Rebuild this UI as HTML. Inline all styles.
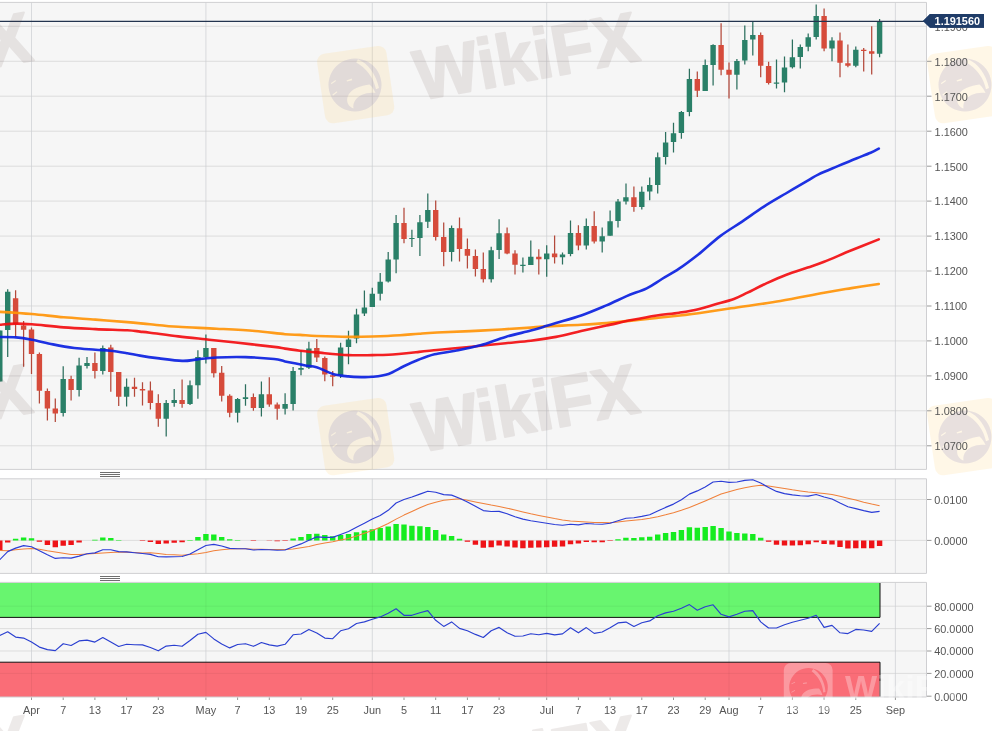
<!DOCTYPE html>
<html lang="en"><head><meta charset="utf-8"><title>EUR/USD daily chart</title>
<style>html,body{margin:0;padding:0;background:#fff}body{width:992px;height:731px;overflow:hidden}svg{display:block}</style></head>
<body>
<svg width="992" height="731" viewBox="0 0 992 731" font-family='"Liberation Sans", Arial, sans-serif' font-size="10.9">
<rect width="992" height="731" fill="#fff"/>
<rect x="0" y="2.4" width="926.5" height="467" fill="#f6f6f6"/>
<rect x="0" y="478.8" width="926.5" height="94.6" fill="#f6f6f6"/>
<rect x="0" y="582.4" width="926.5" height="114.6" fill="#f6f6f6"/>
<g stroke="#d2d2d2" stroke-width="0.7" fill="none">
<path d="M0,26.3 H926.5"/>
<path d="M0,61.3 H926.5"/>
<path d="M0,96.2 H926.5"/>
<path d="M0,131.2 H926.5"/>
<path d="M0,166.2 H926.5"/>
<path d="M0,201.1 H926.5"/>
<path d="M0,236.1 H926.5"/>
<path d="M0,271 H926.5"/>
<path d="M0,306 H926.5"/>
<path d="M0,340.9 H926.5"/>
<path d="M0,375.9 H926.5"/>
<path d="M0,410.8 H926.5"/>
<path d="M0,445.8 H926.5"/>
<path d="M0,499.5 H926.5"/>
<path d="M0,540.4 H926.5"/>
<path d="M0,606.2 H926.5"/>
<path d="M0,628.6 H926.5"/>
<path d="M0,651 H926.5"/>
<path d="M0,673.4 H926.5"/>
</g><g stroke="#cbced2" stroke-width="0.7" fill="none">
<path d="M31.5,2.4 V469.4"/>
<path d="M31.5,478.8 V573.4"/>
<path d="M31.5,582.4 V697"/>
<path d="M205.9,2.4 V469.4"/>
<path d="M205.9,478.8 V573.4"/>
<path d="M205.9,582.4 V697"/>
<path d="M372.3,2.4 V469.4"/>
<path d="M372.3,478.8 V573.4"/>
<path d="M372.3,582.4 V697"/>
<path d="M546.7,2.4 V469.4"/>
<path d="M546.7,478.8 V573.4"/>
<path d="M546.7,582.4 V697"/>
<path d="M729,2.4 V469.4"/>
<path d="M729,478.8 V573.4"/>
<path d="M729,582.4 V697"/>
<path d="M895.4,2.4 V469.4"/>
<path d="M895.4,478.8 V573.4"/>
<path d="M895.4,582.4 V697"/>
</g>
<rect x="0" y="583" width="880" height="34.4" fill="#68f56f"/>
<rect x="0" y="662.2" width="880" height="34.8" fill="#fa6d77"/>
<g stroke="#000" stroke-opacity="0.05" stroke-width="1">
<path d="M0,606.2 H880"/><path d="M0,673.4 H880"/>
<path d="M31.5,583 V617"/><path d="M31.5,663 V696.5"/>
<path d="M205.9,583 V617"/><path d="M205.9,663 V696.5"/>
<path d="M372.3,583 V617"/><path d="M372.3,663 V696.5"/>
<path d="M546.7,583 V617"/><path d="M546.7,663 V696.5"/>
<path d="M729,583 V617"/><path d="M729,663 V696.5"/>
</g>
<path d="M0,617.4 H880 V583" fill="none" stroke="#111" stroke-width="1"/>
<path d="M0,662.2 H880 V697" fill="none" stroke="#111" stroke-width="1"/>
<g stroke="#cfcfd2" stroke-width="1" fill="none">
<path d="M0,2.4 H926.5 V469.4 H0"/>
<path d="M0,478.8 H926.5 V573.4 H0"/>
<path d="M0,582.4 H926.5 V697 H0"/>
</g>
<path d="M-0.2,330.6V381.5M7.7,289.2V357.1M63.2,366.3V416.6M79.1,357.8V396.4M87,357.1V368.4M102.8,345.5V374.5M126.6,378.4V406.6M166.2,400V436.4M174.2,389.1V406.7M190,380.5V405M197.9,350.2V398.7M205.9,334.5V363.6M237.6,398.1V422.6M245.5,384.3V405.8M261.4,381.4V416.5M285.1,393.3V414.6M293.1,367V410.5M301,349.9V375.2M308.9,341.7V369.1M340.6,342.8V378.1M348.5,330.8V364.3M356.5,308.7V343.2M364.4,290.5V316M372.3,287.7V306.9M380.2,272.9V300.5M388.2,251.9V282.5M396.1,214.9V273.3M411.9,229.8V247.1M419.9,214.9V256.1M427.8,193.4V227.9M451.6,225.6V261.4M491.2,246.7V282.5M499.1,219.3V258.9M522.9,257.4V272.5M530.8,240.4V265M546.7,245.2V276.8M562.5,252.5V264.6M570.5,220.5V256.3M586.3,218.4V249.6M602.2,227.6V252.5M610.1,210.4V235.8M618,198.9V227.6M626,183.5V204.6M641.8,186.4V209.4M649.7,177.4V200.2M657.7,152.5V193.5M665.6,132V164.5M673.5,122.8V152.5M681.4,110.9V138.7M689.4,68.7V116.3M705.2,59.5V90.9M713.1,44.3V85.5M736.9,59.1V89.4M744.8,25.6V64.4M752.8,21.5V55.4M776.5,59.4V88.4M784.5,56.6V92.2M792.4,39.4V68.6M800.3,44.5V68.5M808.2,33.4V51.2M816.2,4.5V39.4M832,37.2V61.2M855.8,46.6V67.3M879.6,19.1V57.2" stroke="#2c6f5e" stroke-width="1.25" fill="none"/>
<path d="M15.6,290.3V337M23.6,321V366.7M31.5,327.4V374.1M39.4,352.5V403.4M47.4,388.5V420.4M55.3,398.5V421.9M71.1,375.8V400.6M94.9,352.5V378.4M110.8,344.8V391.7M118.7,372V406M134.5,377.7V396.8M142.5,382.3V405.4M150.4,381.4V409.6M158.3,394.3V426.8M182.1,379.5V407.7M213.8,347.9V377.6M221.7,366.1V401.6M229.7,394.3V417.3M253.4,393.5V410.8M269.3,377.2V406.7M277.2,402.5V419.8M316.8,339V362M324.8,356.6V381.2M332.7,371V386.3M404,207.8V243.2M435.7,200.5V240.4M443.7,222.5V266.2M459.5,217.4V261.4M467.4,238.4V268.5M475.4,249.4V276.4M483.3,252.4V282.5M507.1,227.5V254.3M515,250.2V274.4M538.8,249.3V274.5M554.6,235.6V263.6M578.4,225.3V250.2M594.2,211.3V243.5M633.9,186.4V211.7M697.3,71.6V97.1M721.1,23.3V75.3M729,62.5V98.5M760.7,32.4V77.2M768.6,61.7V84.4M824.1,8.6V51.2M840,32.4V77.2M847.9,44.4V67.3M863.7,48.1V71.5M871.7,26.3V74.5" stroke="#b3493b" stroke-width="1.25" fill="none"/>
<path d="M-2.9,330.6h5.4V381.5h-5.4zM5,291.8h5.4V330h-5.4zM60.5,379h5.4V413h-5.4zM76.4,365.6h5.4V390h-5.4zM84.3,363.1h5.4V366h-5.4zM100.1,348h5.4V370.9h-5.4zM123.9,386.8h5.4V396.8h-5.4zM163.5,402.9h5.4V418.8h-5.4zM171.5,400h5.4V402.9h-5.4zM187.3,385.3h5.4V404h-5.4zM195.2,357.1h5.4V385.3h-5.4zM203.2,347.9h5.4V357.1h-5.4zM234.9,399.1h5.4V412.7h-5.4zM242.8,397.3h5.4V399.1h-5.4zM258.7,394.3h5.4V407.9h-5.4zM282.4,403.9h5.4V408.8h-5.4zM290.4,371h5.4V404h-5.4zM298.3,368.1h5.4V369.7h-5.4zM306.2,348.6h5.4V367.8h-5.4zM337.9,347.4h5.4V375.2h-5.4zM345.8,339.4h5.4V347.1h-5.4zM353.8,314.5h5.4V338.4h-5.4zM361.7,307.4h5.4V313.5h-5.4zM369.6,293.7h5.4V306.9h-5.4zM377.5,281.7h5.4V293.7h-5.4zM385.5,259.5h5.4V281.6h-5.4zM393.4,223.1h5.4V259.5h-5.4zM409.2,237.9h5.4V239.1h-5.4zM417.2,222.2h5.4V237.9h-5.4zM425.1,210.1h5.4V221.8h-5.4zM448.9,227.9h5.4V251.9h-5.4zM488.5,250.3h5.4V279.3h-5.4zM496.4,233.3h5.4V249.9h-5.4zM520.2,264.8h5.4V266.1h-5.4zM528.1,256.7h5.4V265h-5.4zM544,253.5h5.4V259.2h-5.4zM559.8,254.4h5.4V257.3h-5.4zM567.8,233h5.4V254h-5.4zM583.6,226.1h5.4V245.4h-5.4zM599.5,236.2h5.4V241.4h-5.4zM607.4,221.3h5.4V235.8h-5.4zM615.3,201.4h5.4V220.9h-5.4zM623.2,197.3h5.4V201.4h-5.4zM639.1,191.8h5.4V206.9h-5.4zM647,184.9h5.4V191.6h-5.4zM655,157.2h5.4V184.9h-5.4zM662.9,142.5h5.4V156.9h-5.4zM670.8,133.3h5.4V141.9h-5.4zM678.7,111.9h5.4V132.9h-5.4zM686.7,78.9h5.4V111.9h-5.4zM702.5,65h5.4V90.9h-5.4zM710.4,45.1h5.4V65h-5.4zM734.2,61h5.4V74.8h-5.4zM742.1,39.9h5.4V60.6h-5.4zM750.1,34.9h5.4V39.4h-5.4zM773.8,82.5h5.4V83.8h-5.4zM781.8,67.4h5.4V82.4h-5.4zM789.7,57.2h5.4V67.3h-5.4zM797.6,46.9h5.4V56.9h-5.4zM805.5,37.2h5.4V46.8h-5.4zM813.5,16.1h5.4V36.9h-5.4zM829.3,40.6h5.4V48.6h-5.4zM853.1,49.7h5.4V65.8h-5.4zM876.9,21.5h5.4V53.7h-5.4z" fill="#2a8068"/>
<path d="M12.9,298.2h5.4V324.3h-5.4zM20.9,325.4h5.4V329.7h-5.4zM28.8,329.6h5.4V354h-5.4zM36.7,354h5.4V390.7h-5.4zM44.7,391.1h5.4V408.5h-5.4zM52.6,408.5h5.4V413.4h-5.4zM68.4,379h5.4V390h-5.4zM92.2,363.1h5.4V370.9h-5.4zM108.1,347.6h5.4V372h-5.4zM116,372h5.4V396.8h-5.4zM131.8,386.8h5.4V389h-5.4zM139.8,389.1h5.4V390.4h-5.4zM147.7,390.4h5.4V402.9h-5.4zM155.6,402.9h5.4V418.8h-5.4zM179.4,400h5.4V403.9h-5.4zM211.1,347.9h5.4V373.2h-5.4zM219,372.8h5.4V395.8h-5.4zM227,395.8h5.4V412.7h-5.4zM250.7,397.1h5.4V407.9h-5.4zM266.6,394.3h5.4V404.4h-5.4zM274.5,404.4h5.4V408.8h-5.4zM314.1,348h5.4V357.6h-5.4zM322.1,358h5.4V374.5h-5.4zM330,375.2h5.4V376.8h-5.4zM401.3,223.1h5.4V239h-5.4zM433,210.1h5.4V236.9h-5.4zM441,236.9h5.4V251.9h-5.4zM456.8,228.3h5.4V249h-5.4zM464.7,249h5.4V255.7h-5.4zM472.7,256.1h5.4V269.1h-5.4zM480.6,269.1h5.4V279.3h-5.4zM504.4,233.3h5.4V253.4h-5.4zM512.3,253.4h5.4V264.8h-5.4zM536.1,256.7h5.4V259.2h-5.4zM551.9,253.5h5.4V257.3h-5.4zM575.7,233h5.4V245.4h-5.4zM591.5,226.1h5.4V241.4h-5.4zM631.2,197.3h5.4V206.9h-5.4zM694.6,78.9h5.4V90.8h-5.4zM718.4,45.1h5.4V69.7h-5.4zM726.3,69.7h5.4V74.8h-5.4zM758,34.9h5.4V65.8h-5.4zM765.9,65.9h5.4V83.1h-5.4zM821.4,16.1h5.4V48.6h-5.4zM837.3,40.6h5.4V62.7h-5.4zM845.2,63.2h5.4V65.8h-5.4zM861,49.7h5.4V50.9h-5.4zM869,51.2h5.4V53.7h-5.4z" fill="#d64b3b"/>
<g fill="none" stroke-linejoin="round" stroke-linecap="round" stroke-width="2.6" stroke-opacity="0.92">
<path d="M0,311.9C5.3,312.2 21.2,313.1 31.8,314C42.4,314.9 53.1,316.4 63.7,317.3C74.3,318.2 84.9,318.8 95.5,319.6C106.1,320.4 118.2,321.3 127.3,322.1C136.4,322.9 141.5,323.5 150,324.3C158.5,325.1 167.2,326.1 178.3,326.8C189.4,327.5 203.8,328 216.6,328.7C229.4,329.4 243.6,330.1 255,331C266.4,331.9 277.5,333.6 285,334.2C292.5,334.8 294.7,334.6 300,334.9C305.3,335.2 308.6,335.7 316.6,336C324.6,336.3 338.9,336.8 348.2,336.9C357.5,337 363.6,336.8 372.2,336.5C380.8,336.2 392.2,335.7 400,335.2C407.8,334.7 412.9,334.1 419.1,333.7C425.3,333.2 426.8,333 437,332.5C447.2,332 464.8,331.4 480.4,330.6C496,329.8 519.9,328.3 530.8,327.6C541.7,326.9 537.5,326.9 545.9,326.4C554.3,325.9 571.1,325.4 581.2,324.8C591.3,324.2 598,323.8 606.4,323.1C614.8,322.4 623.2,321.5 631.6,320.6C640,319.8 648.7,318.9 656.8,318C664.9,317.1 673.1,316.3 680,315.5C686.9,314.7 689.8,314.5 698.3,313.3C706.8,312.1 717.4,310.4 731.1,308.3C744.8,306.2 764.9,303.6 780.4,301C795.9,298.4 812.2,294.8 824.1,292.7C836,290.6 842.4,289.6 851.5,288.1C860.6,286.7 874.2,284.7 878.8,284" stroke="#ff9408"/>
<path d="M0,324.7C2.7,324.5 10.7,323.7 16,323.6C21.3,323.5 23.9,323.7 31.8,324.3C39.8,324.9 53.1,326.6 63.7,327.4C74.3,328.2 84.9,328.6 95.5,329.1C106.1,329.6 119.9,329.8 127.3,330.2C134.7,330.6 136.2,331.2 140,331.6C143.8,332 143.6,331.9 150,332.7C156.4,333.5 169.1,335.3 178.3,336.4C187.6,337.5 195.9,338.3 205.5,339.3C215.1,340.3 224.4,341.2 235.8,342.5C247.2,343.8 265.9,345.9 274.1,346.9C282.3,347.9 280.7,348 285,348.6C289.3,349.2 294.7,350.2 300,350.8C305.3,351.4 308.6,351.7 316.6,352.4C324.6,353.1 338.9,354.7 348.2,355.1C357.5,355.6 365.5,355.2 372.2,355.1C378.9,355 380.7,355.2 388.5,354.7C396.3,354.2 411,352.7 419.1,351.9C427.2,351.1 431,350.6 437,350C443,349.4 448,349 455.2,348.3C462.4,347.6 472,346.7 480.4,345.8C488.8,344.9 497.2,344.1 505.6,343.2C514,342.3 522.4,341.8 530.8,340.7C539.2,339.6 547.6,338.5 556,336.9C564.4,335.3 572.8,333 581.2,331.1C589.6,329.2 598,327.4 606.4,325.6C614.8,323.8 623.2,321.8 631.6,320.1C640,318.4 648.9,316.7 656.8,315.5C664.7,314.3 672.2,313.8 679.1,312.7C686,311.6 692.4,310.6 698.3,309.2C704.2,307.8 708.8,306.2 714.7,304.5C720.6,302.8 728.4,301 733.9,299C739.4,297 742.5,295.1 747.5,292.7C752.5,290.3 757.5,287.4 763.9,284.5C770.3,281.6 778.5,277.8 785.8,275C793.1,272.2 801.3,269.8 807.7,267.6C814.1,265.4 816.8,264.7 824.1,261.8C831.4,258.9 842.4,254 851.5,250.3C860.6,246.6 874.2,241.2 878.8,239.4" stroke="#f20d10"/>
<path d="M0,337C2.7,337.1 10.7,336.9 16,337.4C21.3,337.8 25.6,338.5 31.8,339.7C38,340.9 45.9,343 53,344.4C60.1,345.8 67.2,347.1 74.3,348C81.4,348.9 89.5,349.2 95.5,349.7C101.5,350.2 105,350.2 110.3,350.8C115.6,351.4 122.3,352.5 127.3,353.3C132.2,354.1 134.7,354.8 140,355.6C145.3,356.5 152.2,357.5 159.2,358.4C166.2,359.3 175.8,360.7 182.2,360.9C188.6,361.1 191.8,360 197.5,359.4C203.2,358.8 208.6,357.9 216.6,357.5C224.6,357.1 235.8,356.9 245.4,357.1C255,357.4 267.5,358.3 274.1,359C280.7,359.7 280,360.3 285,361.4C290,362.4 298.9,364.3 304.2,365.3C309.5,366.3 311.8,365.8 316.6,367.2C321.4,368.6 327.6,372.4 332.9,373.9C338.2,375.4 343.4,375.9 348.2,376.4C353,376.9 357.6,377 361.6,377.1C365.6,377.2 367.7,377.3 372.2,376.8C376.7,376.3 383.2,375.7 388.5,373.9C393.8,372.1 398.7,368.6 403.8,366.2C408.9,363.8 414,361.5 419.1,359.5C424.2,357.5 428.5,355.8 434.5,354.3C440.5,352.9 447.6,352.3 455.2,350.8C462.8,349.3 472,347.6 480.4,345.3C488.8,343 497.2,339.3 505.6,336.9C514,334.4 524.1,332.4 530.8,330.6C537.5,328.8 541.7,327.4 545.9,326.1C550.1,324.9 550.1,324.9 556,323.1C561.9,321.3 572.8,318.4 581.2,315.5C589.6,312.6 598.8,308.6 606.4,305.4C614,302.2 619.9,299 626.6,296.1C633.3,293.2 640.8,291.2 646.7,288.3C652.6,285.4 656.5,282.3 661.9,279C667.3,275.7 673,272.8 679.1,268.7C685.2,264.6 691.4,259.9 698.3,254.5C705.1,249.1 712.9,241.6 720.2,236.1C727.5,230.6 734.8,226.5 742.1,221.6C749.4,216.7 756.6,211.3 763.9,206.6C771.2,201.9 778.5,197.8 785.8,193.5C793.1,189.2 802.2,183.8 807.7,180.6C813.2,177.4 813.6,176.7 818.6,174.3C823.6,171.9 831.4,168.8 837.8,166.1C844.2,163.4 851.4,160.4 856.9,158.2C862.4,156 867,154.3 870.6,152.7C874.2,151.1 877.4,149.3 878.8,148.6" stroke="#0a1fe0"/>
</g>
<path d="M0,21.4 H924" stroke="#23344f" stroke-width="1.15"/>
<path d="M923,21 L930,14.1 H984 V27.8 H930 Z" fill="#1f3c68"/>
<path d="M12.9,538.8h5.4V540.4h-5.4zM20.9,537.5h5.4V540.4h-5.4zM28.8,538.3h5.4V540.4h-5.4zM92.2,539.8h5.4V540.4h-5.4zM100.1,537.5h5.4V540.4h-5.4zM108.1,538.1h5.4V540.4h-5.4zM116,540h5.4V540.4h-5.4zM187.3,540.1h5.4V540.4h-5.4zM195.2,536.9h5.4V540.4h-5.4zM203.2,533.9h5.4V540.4h-5.4zM211.1,534.4h5.4V540.4h-5.4zM219,536.9h5.4V540.4h-5.4zM227,539.3h5.4V540.4h-5.4zM234.9,540.1h5.4V540.4h-5.4zM290.4,538.5h5.4V540.4h-5.4zM298.3,536.9h5.4V540.4h-5.4zM306.2,534h5.4V540.4h-5.4zM314.1,533.8h5.4V540.4h-5.4zM322.1,534.9h5.4V540.4h-5.4zM330,536.2h5.4V540.4h-5.4zM337.9,534.9h5.4V540.4h-5.4zM345.8,534.1h5.4V540.4h-5.4zM353.8,532.2h5.4V540.4h-5.4zM361.7,530.6h5.4V540.4h-5.4zM369.6,529.3h5.4V540.4h-5.4zM377.5,528.1h5.4V540.4h-5.4zM385.5,526.5h5.4V540.4h-5.4zM393.4,524.1h5.4V540.4h-5.4zM401.3,524.4h5.4V540.4h-5.4zM409.2,525.7h5.4V540.4h-5.4zM417.2,526.2h5.4V540.4h-5.4zM425.1,527h5.4V540.4h-5.4zM433,530.1h5.4V540.4h-5.4zM441,534.6h5.4V540.4h-5.4zM448.9,536.1h5.4V540.4h-5.4zM456.8,538.7h5.4V540.4h-5.4zM615.3,539.3h5.4V540.4h-5.4zM623.2,537.8h5.4V540.4h-5.4zM631.2,538h5.4V540.4h-5.4zM639.1,537.2h5.4V540.4h-5.4zM647,536.7h5.4V540.4h-5.4zM655,534.6h5.4V540.4h-5.4zM662.9,533h5.4V540.4h-5.4zM670.8,531.9h5.4V540.4h-5.4zM678.7,529.9h5.4V540.4h-5.4zM686.7,527.2h5.4V540.4h-5.4zM694.6,527.8h5.4V540.4h-5.4zM702.5,527h5.4V540.4h-5.4zM710.4,525.9h5.4V540.4h-5.4zM718.4,528.1h5.4V540.4h-5.4zM726.3,531.4h5.4V540.4h-5.4zM734.2,533h5.4V540.4h-5.4zM742.1,533.5h5.4V540.4h-5.4zM750.1,533.9h5.4V540.4h-5.4zM758,537.8h5.4V540.4h-5.4z" fill="#16ec20"/>
<path d="M-2.9,540.4h5.4V550.9h-5.4zM5,540.4h5.4V542.4h-5.4zM36.7,540.4h5.4V541.7h-5.4zM44.7,540.4h5.4V544.9h-5.4zM52.6,540.4h5.4V547.3h-5.4zM60.5,540.4h5.4V545.7h-5.4zM68.4,540.4h5.4V544.9h-5.4zM76.4,540.4h5.4V542.5h-5.4zM139.8,540.4h5.4V540.9h-5.4zM147.7,540.4h5.4V542h-5.4zM155.6,540.4h5.4V543.9h-5.4zM163.5,540.4h5.4V543.6h-5.4zM171.5,540.4h5.4V542.8h-5.4zM179.4,540.4h5.4V542.3h-5.4zM250.7,540.4h5.4V541h-5.4zM266.6,540.4h5.4V540.7h-5.4zM274.5,540.4h5.4V541.2h-5.4zM282.4,540.4h5.4V541h-5.4zM464.7,540.4h5.4V541.7h-5.4zM472.7,540.4h5.4V544.8h-5.4zM480.6,540.4h5.4V547.7h-5.4zM488.5,540.4h5.4V547.2h-5.4zM496.4,540.4h5.4V545.6h-5.4zM504.4,540.4h5.4V546.4h-5.4zM512.3,540.4h5.4V547.5h-5.4zM520.2,540.4h5.4V548.3h-5.4zM528.1,540.4h5.4V547.7h-5.4zM536.1,540.4h5.4V547.5h-5.4zM544,540.4h5.4V547.2h-5.4zM551.9,540.4h5.4V546.7h-5.4zM559.8,540.4h5.4V546.4h-5.4zM567.8,540.4h5.4V544.3h-5.4zM575.7,540.4h5.4V543.6h-5.4zM583.6,540.4h5.4V542h-5.4zM591.5,540.4h5.4V542.3h-5.4zM599.5,540.4h5.4V542.3h-5.4zM607.4,540.4h5.4V541.1h-5.4zM765.9,540.4h5.4V541.7h-5.4zM773.8,540.4h5.4V544.8h-5.4zM781.8,540.4h5.4V545.6h-5.4zM789.7,540.4h5.4V545.6h-5.4zM797.6,540.4h5.4V545.2h-5.4zM805.5,540.4h5.4V544.3h-5.4zM813.5,540.4h5.4V542.3h-5.4zM821.4,540.4h5.4V543.9h-5.4zM829.3,540.4h5.4V544.4h-5.4zM837.3,540.4h5.4V546.9h-5.4zM845.2,540.4h5.4V548.5h-5.4zM853.1,540.4h5.4V548.3h-5.4zM861,540.4h5.4V548.3h-5.4zM869,540.4h5.4V548.3h-5.4zM876.9,540.4h5.4V545.9h-5.4z" fill="#ee1217"/>
<path d="M-0.2,550.5L7.7,550.8L15.6,549.7L23.6,548.9L31.5,548.4L39.4,549.2L47.4,550.8L55.3,551.9L63.2,553.2L71.1,554.4L79.1,554.5L87,554L94.9,553.5L102.8,552.9L110.8,552.4L118.7,552.1L126.6,552.1L134.5,552.4L142.5,552.9L150.4,552.8L158.3,553.6L166.2,554.5L174.2,554.8L182.1,555.2L190,554.5L197.9,553.7L205.9,552.4L213.8,550.8L221.7,549.7L229.7,548.9L237.6,548.7L245.5,548.7L253.4,549.2L261.4,549.2L269.3,549.4L277.2,549.5L285.1,549.5L293.1,548.9L301,547.7L308.9,546.4L316.8,544.5L324.8,543L332.7,541.7L340.6,540.1L348.5,538.5L356.5,536.1L364.4,533.3L372.3,530.4L380.2,527.2L388.2,523.5L396.1,519.1L404,515.1L411.9,511.4L419.9,507.8L427.8,504.6L435.7,502.2L443.7,500.3L451.6,499.5L459.5,498.8L467.4,500.3L475.4,501.9L483.3,503.5L491.2,505.1L499.1,506.5L507.1,508.2L515,509.9L522.9,511.9L530.8,513.8L538.8,515.4L546.7,517L554.6,518.6L562.5,519.9L570.5,520.9L578.4,521.5L586.3,522L594.2,522.5L602.2,522.6L610.1,522.8L618,522L626,521.1L633.9,520.3L641.8,519.5L649.7,518.3L657.7,516.7L665.6,514.8L673.5,512.7L681.4,510.3L689.4,507.4L697.3,504.3L705.2,500.9L713.1,497.4L721.1,494.1L729,491.7L736.9,489.6L744.8,487.7L752.8,486.2L760.7,485.3L768.6,486.1L776.5,487.2L784.5,488.5L792.4,489.8L800.3,490.9L808.2,492L816.2,492.8L824.1,493.6L832,494.6L840,496.2L847.9,498.2L855.8,500.1L863.7,502.2L871.7,504.1L879.6,505.7" fill="none" stroke="#f0803a" stroke-width="1.05" stroke-linejoin="round"/>
<path d="M-0.2,559.7L7.7,551.6L15.6,548.1L23.6,545.6L31.5,546.8L39.4,550.8L47.4,554.8L55.3,558.4L63.2,557.7L71.1,558.1L79.1,556.1L87,553.7L94.9,552.9L102.8,549.7L110.8,549.7L118.7,551.6L126.6,551.9L134.5,552.7L142.5,553.5L150.4,554.4L158.3,556.8L166.2,556.9L174.2,556.8L182.1,556.5L190,554L197.9,549.7L205.9,545.5L213.8,544.4L221.7,546L229.7,548.4L237.6,548.7L245.5,548.7L253.4,550L261.4,549.5L269.3,549.7L277.2,550.3L285.1,550L293.1,546.8L301,543.9L308.9,540.2L316.8,536.9L324.8,537.4L332.7,537.4L340.6,534.5L348.5,531.5L356.5,527.2L364.4,523.2L372.3,519.1L380.2,515.4L388.2,510.3L396.1,503L404,499.5L411.9,497L419.9,494.1L427.8,491.2L435.7,492.2L443.7,494.6L451.6,495.1L459.5,498.2L467.4,501.9L475.4,506.2L483.3,510.6L491.2,511.5L499.1,511.4L507.1,513.8L515,516.7L522.9,519.1L530.8,520.7L538.8,522L546.7,523.2L554.6,524.5L562.5,525.3L570.5,524.3L578.4,524.9L586.3,523.5L594.2,524L602.2,524.2L610.1,523.2L618,520.7L626,518.3L633.9,517.8L641.8,516.4L649.7,514.8L657.7,511.1L665.6,507.4L673.5,504.1L681.4,499.8L689.4,494.1L697.3,490.9L705.2,486.9L713.1,482L721.1,481.2L729,482.4L736.9,482L744.8,480.4L752.8,479.7L760.7,483L768.6,487.4L776.5,491.4L784.5,493.6L792.4,494.9L800.3,495.7L808.2,496.1L816.2,494.5L824.1,497L832,499L840,503L847.9,506.7L855.8,508.6L863.7,510.6L871.7,512.4L879.6,511.4" fill="none" stroke="#2a3cd6" stroke-width="1.15" stroke-linejoin="round"/>
<path d="M-0.2,635.4L7.7,631.8L15.6,637.1L23.6,638.1L31.5,642.1L39.4,647.1L47.4,649.6L55.3,650.6L63.2,643.7L71.1,645.5L79.1,640.9L87,640.1L94.9,642.1L102.8,637.5L110.8,642.1L118.7,646.5L126.6,644.3L134.5,644.7L142.5,644.9L150.4,647.5L158.3,650.8L166.2,646.1L174.2,645.3L182.1,646.3L190,640.5L197.9,634.2L205.9,632.4L213.8,638.9L221.7,643.9L229.7,647.9L237.6,644.5L245.5,643.7L253.4,646.3L261.4,642.5L269.3,644.9L277.2,646.1L285.1,644.3L293.1,634.8L301,634L308.9,629.4L316.8,633L324.8,638.1L332.7,638.7L340.6,630.8L348.5,628.8L356.5,623.5L364.4,621.9L372.3,619.3L380.2,616.9L388.2,613.3L396.1,608.8L404,615.3L411.9,615.3L419.9,612.7L427.8,610.6L435.7,620.3L443.7,626.4L451.6,621.9L459.5,628.4L467.4,630.8L475.4,634.4L483.3,637.5L491.2,630.8L499.1,627.4L507.1,632.8L515,636.3L522.9,636L530.8,633.8L538.8,634.8L546.7,633.4L554.6,634.9L562.5,633.9L570.5,627.8L578.4,632.8L586.3,627.6L594.2,633.4L602.2,632L610.1,627.8L618,622.9L626,622.1L633.9,626.4L641.8,622.7L649.7,620.9L657.7,615.7L665.6,612.9L673.5,611.3L681.4,608.2L689.4,604.6L697.3,610.2L705.2,606.8L713.1,604.8L721.1,614.3L729,616.9L736.9,614.3L744.8,611.3L752.8,610.6L760.7,621.9L768.6,628L776.5,628L784.5,624.8L792.4,622.3L800.3,620.3L808.2,618.3L816.2,615.3L824.1,627.4L832,625.4L840,632.8L847.9,633.6L855.8,629.4L863.7,630L871.7,631.4L879.6,623.3" fill="none" stroke="#2a3fd0" stroke-width="1.15" stroke-linejoin="round"/>
<path d="M100,472.5 H120 M100,474.5 H120 M100,476.5 H120" stroke="#4a4a4a" stroke-width="0.8"/>
<path d="M100,576.5 H120 M100,578.5 H120 M100,580.5 H120" stroke="#4a4a4a" stroke-width="0.8"/>
<g transform="translate(-607,0)"><rect transform="translate(355.7,84.6) rotate(-8.3)" x="-35" y="-35" width="70" height="70" rx="8" fill="#ffc65c" fill-opacity="0.15"/><path transform="translate(355,85)" fill-rule="evenodd" fill="#8c86be" fill-opacity="0.2" d="M0,-26.5A26.5,26.5 0 1 1 -0.01,-26.5ZM3,-25.8C13,-21.5 21,-11 24,3L21,4.2C18.5,-8 11,-17 1.2,-22.6ZM14.5,-0.5C6,0.5 -4.5,3.5 -7.5,12C-9,17.5 -6,22 -1.5,23.5C-2.5,18 1,12.5 7,9.8C11,8 15.5,7.4 20.5,8C19,4.5 17,1.5 14.5,-0.5ZM-8.5,-4.6L-3.4,-6.4L-2.8,-4.8L-8,-3.4ZM-24,-2L-19.5,-5L-19,-4L-23.6,-0.8ZM-22.6,9.6L-18.2,6.2L-17.6,7.2L-22,10.8Z"/><g opacity="0.11"><text transform="translate(419.2,100.6) rotate(-10.3)" font-size="71" font-weight="bold" textLength="226" lengthAdjust="spacingAndGlyphs" fill="#644844" stroke="#644844" stroke-width="2" stroke-linejoin="round">WikiFX</text></g></g>
<g transform="translate(-607,352)"><rect transform="translate(355.7,84.6) rotate(-8.3)" x="-35" y="-35" width="70" height="70" rx="8" fill="#ffc65c" fill-opacity="0.15"/><path transform="translate(355,85)" fill-rule="evenodd" fill="#8c86be" fill-opacity="0.2" d="M0,-26.5A26.5,26.5 0 1 1 -0.01,-26.5ZM3,-25.8C13,-21.5 21,-11 24,3L21,4.2C18.5,-8 11,-17 1.2,-22.6ZM14.5,-0.5C6,0.5 -4.5,3.5 -7.5,12C-9,17.5 -6,22 -1.5,23.5C-2.5,18 1,12.5 7,9.8C11,8 15.5,7.4 20.5,8C19,4.5 17,1.5 14.5,-0.5ZM-8.5,-4.6L-3.4,-6.4L-2.8,-4.8L-8,-3.4ZM-24,-2L-19.5,-5L-19,-4L-23.6,-0.8ZM-22.6,9.6L-18.2,6.2L-17.6,7.2L-22,10.8Z"/><g opacity="0.11"><text transform="translate(419.2,100.6) rotate(-10.3)" font-size="71" font-weight="bold" textLength="226" lengthAdjust="spacingAndGlyphs" fill="#644844" stroke="#644844" stroke-width="2" stroke-linejoin="round">WikiFX</text></g></g>
<g transform="translate(-607,703)"><rect transform="translate(355.7,84.6) rotate(-8.3)" x="-35" y="-35" width="70" height="70" rx="8" fill="#ffc65c" fill-opacity="0.15"/><path transform="translate(355,85)" fill-rule="evenodd" fill="#8c86be" fill-opacity="0.2" d="M0,-26.5A26.5,26.5 0 1 1 -0.01,-26.5ZM3,-25.8C13,-21.5 21,-11 24,3L21,4.2C18.5,-8 11,-17 1.2,-22.6ZM14.5,-0.5C6,0.5 -4.5,3.5 -7.5,12C-9,17.5 -6,22 -1.5,23.5C-2.5,18 1,12.5 7,9.8C11,8 15.5,7.4 20.5,8C19,4.5 17,1.5 14.5,-0.5ZM-8.5,-4.6L-3.4,-6.4L-2.8,-4.8L-8,-3.4ZM-24,-2L-19.5,-5L-19,-4L-23.6,-0.8ZM-22.6,9.6L-18.2,6.2L-17.6,7.2L-22,10.8Z"/><g opacity="0.11"><text transform="translate(419.2,100.6) rotate(-10.3)" font-size="71" font-weight="bold" textLength="226" lengthAdjust="spacingAndGlyphs" fill="#644844" stroke="#644844" stroke-width="2" stroke-linejoin="round">WikiFX</text></g></g>
<g transform="translate(0,0)"><rect transform="translate(355.7,84.6) rotate(-8.3)" x="-35" y="-35" width="70" height="70" rx="8" fill="#ffc65c" fill-opacity="0.15"/><path transform="translate(355,85)" fill-rule="evenodd" fill="#8c86be" fill-opacity="0.2" d="M0,-26.5A26.5,26.5 0 1 1 -0.01,-26.5ZM3,-25.8C13,-21.5 21,-11 24,3L21,4.2C18.5,-8 11,-17 1.2,-22.6ZM14.5,-0.5C6,0.5 -4.5,3.5 -7.5,12C-9,17.5 -6,22 -1.5,23.5C-2.5,18 1,12.5 7,9.8C11,8 15.5,7.4 20.5,8C19,4.5 17,1.5 14.5,-0.5ZM-8.5,-4.6L-3.4,-6.4L-2.8,-4.8L-8,-3.4ZM-24,-2L-19.5,-5L-19,-4L-23.6,-0.8ZM-22.6,9.6L-18.2,6.2L-17.6,7.2L-22,10.8Z"/><g opacity="0.11"><text transform="translate(419.2,100.6) rotate(-10.3)" font-size="71" font-weight="bold" textLength="226" lengthAdjust="spacingAndGlyphs" fill="#644844" stroke="#644844" stroke-width="2" stroke-linejoin="round">WikiFX</text></g></g>
<g transform="translate(0,352)"><rect transform="translate(355.7,84.6) rotate(-8.3)" x="-35" y="-35" width="70" height="70" rx="8" fill="#ffc65c" fill-opacity="0.15"/><path transform="translate(355,85)" fill-rule="evenodd" fill="#8c86be" fill-opacity="0.2" d="M0,-26.5A26.5,26.5 0 1 1 -0.01,-26.5ZM3,-25.8C13,-21.5 21,-11 24,3L21,4.2C18.5,-8 11,-17 1.2,-22.6ZM14.5,-0.5C6,0.5 -4.5,3.5 -7.5,12C-9,17.5 -6,22 -1.5,23.5C-2.5,18 1,12.5 7,9.8C11,8 15.5,7.4 20.5,8C19,4.5 17,1.5 14.5,-0.5ZM-8.5,-4.6L-3.4,-6.4L-2.8,-4.8L-8,-3.4ZM-24,-2L-19.5,-5L-19,-4L-23.6,-0.8ZM-22.6,9.6L-18.2,6.2L-17.6,7.2L-22,10.8Z"/><g opacity="0.11"><text transform="translate(419.2,100.6) rotate(-10.3)" font-size="71" font-weight="bold" textLength="226" lengthAdjust="spacingAndGlyphs" fill="#644844" stroke="#644844" stroke-width="2" stroke-linejoin="round">WikiFX</text></g></g>
<g transform="translate(0,703)"><rect transform="translate(355.7,84.6) rotate(-8.3)" x="-35" y="-35" width="70" height="70" rx="8" fill="#ffc65c" fill-opacity="0.15"/><path transform="translate(355,85)" fill-rule="evenodd" fill="#8c86be" fill-opacity="0.2" d="M0,-26.5A26.5,26.5 0 1 1 -0.01,-26.5ZM3,-25.8C13,-21.5 21,-11 24,3L21,4.2C18.5,-8 11,-17 1.2,-22.6ZM14.5,-0.5C6,0.5 -4.5,3.5 -7.5,12C-9,17.5 -6,22 -1.5,23.5C-2.5,18 1,12.5 7,9.8C11,8 15.5,7.4 20.5,8C19,4.5 17,1.5 14.5,-0.5ZM-8.5,-4.6L-3.4,-6.4L-2.8,-4.8L-8,-3.4ZM-24,-2L-19.5,-5L-19,-4L-23.6,-0.8ZM-22.6,9.6L-18.2,6.2L-17.6,7.2L-22,10.8Z"/><g opacity="0.11"><text transform="translate(419.2,100.6) rotate(-10.3)" font-size="71" font-weight="bold" textLength="226" lengthAdjust="spacingAndGlyphs" fill="#644844" stroke="#644844" stroke-width="2" stroke-linejoin="round">WikiFX</text></g></g>
<g transform="translate(610,0)"><rect transform="translate(355.7,84.6) rotate(-8.3)" x="-35" y="-35" width="70" height="70" rx="8" fill="#ffc65c" fill-opacity="0.15"/><path transform="translate(355,85)" fill-rule="evenodd" fill="#8c86be" fill-opacity="0.2" d="M0,-26.5A26.5,26.5 0 1 1 -0.01,-26.5ZM3,-25.8C13,-21.5 21,-11 24,3L21,4.2C18.5,-8 11,-17 1.2,-22.6ZM14.5,-0.5C6,0.5 -4.5,3.5 -7.5,12C-9,17.5 -6,22 -1.5,23.5C-2.5,18 1,12.5 7,9.8C11,8 15.5,7.4 20.5,8C19,4.5 17,1.5 14.5,-0.5ZM-8.5,-4.6L-3.4,-6.4L-2.8,-4.8L-8,-3.4ZM-24,-2L-19.5,-5L-19,-4L-23.6,-0.8ZM-22.6,9.6L-18.2,6.2L-17.6,7.2L-22,10.8Z"/><g opacity="0.11"><text transform="translate(419.2,100.6) rotate(-10.3)" font-size="71" font-weight="bold" textLength="226" lengthAdjust="spacingAndGlyphs" fill="#644844" stroke="#644844" stroke-width="2" stroke-linejoin="round">WikiFX</text></g></g>
<g transform="translate(610,352)"><rect transform="translate(355.7,84.6) rotate(-8.3)" x="-35" y="-35" width="70" height="70" rx="8" fill="#ffc65c" fill-opacity="0.15"/><path transform="translate(355,85)" fill-rule="evenodd" fill="#8c86be" fill-opacity="0.2" d="M0,-26.5A26.5,26.5 0 1 1 -0.01,-26.5ZM3,-25.8C13,-21.5 21,-11 24,3L21,4.2C18.5,-8 11,-17 1.2,-22.6ZM14.5,-0.5C6,0.5 -4.5,3.5 -7.5,12C-9,17.5 -6,22 -1.5,23.5C-2.5,18 1,12.5 7,9.8C11,8 15.5,7.4 20.5,8C19,4.5 17,1.5 14.5,-0.5ZM-8.5,-4.6L-3.4,-6.4L-2.8,-4.8L-8,-3.4ZM-24,-2L-19.5,-5L-19,-4L-23.6,-0.8ZM-22.6,9.6L-18.2,6.2L-17.6,7.2L-22,10.8Z"/><g opacity="0.11"><text transform="translate(419.2,100.6) rotate(-10.3)" font-size="71" font-weight="bold" textLength="226" lengthAdjust="spacingAndGlyphs" fill="#644844" stroke="#644844" stroke-width="2" stroke-linejoin="round">WikiFX</text></g></g>
<g transform="translate(610,703)"><rect transform="translate(355.7,84.6) rotate(-8.3)" x="-35" y="-35" width="70" height="70" rx="8" fill="#ffc65c" fill-opacity="0.15"/><path transform="translate(355,85)" fill-rule="evenodd" fill="#8c86be" fill-opacity="0.2" d="M0,-26.5A26.5,26.5 0 1 1 -0.01,-26.5ZM3,-25.8C13,-21.5 21,-11 24,3L21,4.2C18.5,-8 11,-17 1.2,-22.6ZM14.5,-0.5C6,0.5 -4.5,3.5 -7.5,12C-9,17.5 -6,22 -1.5,23.5C-2.5,18 1,12.5 7,9.8C11,8 15.5,7.4 20.5,8C19,4.5 17,1.5 14.5,-0.5ZM-8.5,-4.6L-3.4,-6.4L-2.8,-4.8L-8,-3.4ZM-24,-2L-19.5,-5L-19,-4L-23.6,-0.8ZM-22.6,9.6L-18.2,6.2L-17.6,7.2L-22,10.8Z"/><g opacity="0.11"><text transform="translate(419.2,100.6) rotate(-10.3)" font-size="71" font-weight="bold" textLength="226" lengthAdjust="spacingAndGlyphs" fill="#644844" stroke="#644844" stroke-width="2" stroke-linejoin="round">WikiFX</text></g></g>
<g stroke="#999" stroke-width="1">
<path d="M927,61.3 h4.5"/>
<path d="M927,96.2 h4.5"/>
<path d="M927,131.2 h4.5"/>
<path d="M927,166.2 h4.5"/>
<path d="M927,201.1 h4.5"/>
<path d="M927,236.1 h4.5"/>
<path d="M927,271 h4.5"/>
<path d="M927,306 h4.5"/>
<path d="M927,340.9 h4.5"/>
<path d="M927,375.9 h4.5"/>
<path d="M927,410.8 h4.5"/>
<path d="M927,445.8 h4.5"/>
<path d="M927,499.5 h4.5"/>
<path d="M927,540.4 h4.5"/>
<path d="M927,606.2 h4.5"/>
<path d="M927,628.6 h4.5"/>
<path d="M927,651 h4.5"/>
<path d="M927,673.4 h4.5"/>
<path d="M927,696.2 h4.5"/>
<path d="M31.5,697.5 v2.5"/>
<path d="M63.2,697.5 v2.5"/>
<path d="M94.9,697.5 v2.5"/>
<path d="M126.6,697.5 v2.5"/>
<path d="M158.3,697.5 v2.5"/>
<path d="M205.9,697.5 v2.5"/>
<path d="M237.6,697.5 v2.5"/>
<path d="M269.3,697.5 v2.5"/>
<path d="M301,697.5 v2.5"/>
<path d="M332.7,697.5 v2.5"/>
<path d="M372.3,697.5 v2.5"/>
<path d="M404,697.5 v2.5"/>
<path d="M435.7,697.5 v2.5"/>
<path d="M467.4,697.5 v2.5"/>
<path d="M499.1,697.5 v2.5"/>
<path d="M546.7,697.5 v2.5"/>
<path d="M578.4,697.5 v2.5"/>
<path d="M610.1,697.5 v2.5"/>
<path d="M641.8,697.5 v2.5"/>
<path d="M673.5,697.5 v2.5"/>
<path d="M705.2,697.5 v2.5"/>
<path d="M729,697.5 v2.5"/>
<path d="M760.7,697.5 v2.5"/>
<path d="M792.4,697.5 v2.5"/>
<path d="M824.1,697.5 v2.5"/>
<path d="M855.8,697.5 v2.5"/>
<path d="M895.4,697.5 v2.5"/>
</g>
<g fill="#555">
<text x="934.6" y="30.6">1.1900</text>
<text x="934.6" y="65.6">1.1800</text>
<text x="934.6" y="100.5">1.1700</text>
<text x="934.6" y="135.5">1.1600</text>
<text x="934.6" y="170.5">1.1500</text>
<text x="934.6" y="205.4">1.1400</text>
<text x="934.6" y="240.4">1.1300</text>
<text x="934.6" y="275.3">1.1200</text>
<text x="934.6" y="310.3">1.1100</text>
<text x="934.6" y="345.2">1.1000</text>
<text x="934.6" y="380.2">1.0900</text>
<text x="934.6" y="415.1">1.0800</text>
<text x="934.6" y="450.1">1.0700</text>
<text x="934.2" y="503.8">0.0100</text>
<text x="934.2" y="544.7">0.0000</text>
<text x="934.2" y="610.5">80.0000</text>
<text x="934.2" y="632.9">60.0000</text>
<text x="934.2" y="655.3">40.0000</text>
<text x="934.2" y="677.7">20.0000</text>
<text x="934.2" y="700.5">0.0000</text>
<text x="31.5" y="713.8" text-anchor="middle">Apr</text>
<text x="63.2" y="713.8" text-anchor="middle">7</text>
<text x="94.9" y="713.8" text-anchor="middle">13</text>
<text x="126.6" y="713.8" text-anchor="middle">17</text>
<text x="158.3" y="713.8" text-anchor="middle">23</text>
<text x="205.9" y="713.8" text-anchor="middle">May</text>
<text x="237.6" y="713.8" text-anchor="middle">7</text>
<text x="269.3" y="713.8" text-anchor="middle">13</text>
<text x="301" y="713.8" text-anchor="middle">19</text>
<text x="332.7" y="713.8" text-anchor="middle">25</text>
<text x="372.3" y="713.8" text-anchor="middle">Jun</text>
<text x="404" y="713.8" text-anchor="middle">5</text>
<text x="435.7" y="713.8" text-anchor="middle">11</text>
<text x="467.4" y="713.8" text-anchor="middle">17</text>
<text x="499.1" y="713.8" text-anchor="middle">23</text>
<text x="546.7" y="713.8" text-anchor="middle">Jul</text>
<text x="578.4" y="713.8" text-anchor="middle">7</text>
<text x="610.1" y="713.8" text-anchor="middle">13</text>
<text x="641.8" y="713.8" text-anchor="middle">17</text>
<text x="673.5" y="713.8" text-anchor="middle">23</text>
<text x="705.2" y="713.8" text-anchor="middle">29</text>
<text x="729" y="713.8" text-anchor="middle">Aug</text>
<text x="760.7" y="713.8" text-anchor="middle">7</text>
<text x="792.4" y="713.8" text-anchor="middle">13</text>
<text x="824.1" y="713.8" text-anchor="middle">19</text>
<text x="855.8" y="713.8" text-anchor="middle">25</text>
<text x="895.4" y="713.8" text-anchor="middle">Sep</text>
</g>
<path d="M923,21 L930,14.1 H984 V27.8 H930 Z" fill="#1f3c68"/>
<text x="934.6" y="24.9" fill="#fff" font-weight="bold" font-size="10.9">1.191560</text>
<g fill="#fff" fill-opacity="0.3">
<path fill-rule="evenodd" d="M790.8,663H825.6a7,7 0 0 1 7,7V705a7,7 0 0 1 -7,7H790.8a7,7 0 0 1 -7,-7V670a7,7 0 0 1 7,-7ZM808.5,668a19.3,19.3 0 1 0 0.01,0Z"/>
<path transform="translate(808.5,687.3) scale(0.728) rotate(8)" d="M3,-25.8C13,-21.5 21,-11 24,3L21,4.2C18.5,-8 11,-17 1.2,-22.6ZM14.5,-0.5C6,0.5 -4.5,3.5 -7.5,12C-9,17.5 -6,22 -1.5,23.5C-2.5,18 1,12.5 7,9.8C11,8 15.5,7.4 20.5,8C19,4.5 17,1.5 14.5,-0.5ZM-8.5,-4.6L-3.4,-6.4L-2.8,-4.8L-8,-3.4ZM-24,-2L-19.5,-5L-19,-4L-23.6,-0.8ZM-22.6,9.6L-18.2,6.2L-17.6,7.2L-22,10.8Z"/>
<text x="845" y="699" font-size="34" font-weight="bold">WikiFX</text>
</g>
</svg>
</body></html>
